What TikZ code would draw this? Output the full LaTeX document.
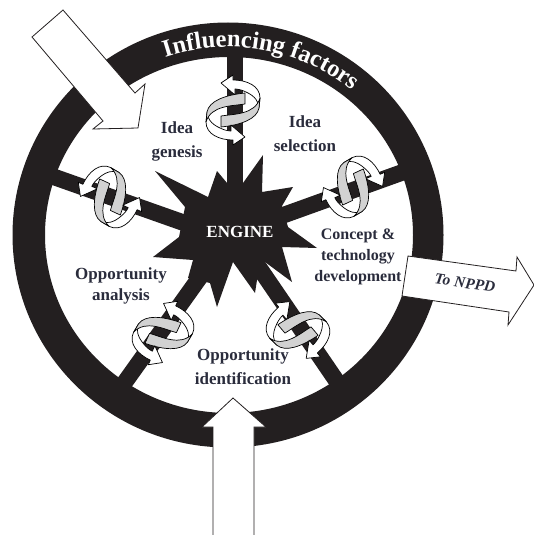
\documentclass[tikz,border=0pt]{standalone}
\usepackage{fontspec}
\setmainfont{Liberation Serif}
\usetikzlibrary{decorations.text}
\definecolor{ink}{HTML}{231F20}
\definecolor{labelink}{HTML}{2A2C3C}
\definecolor{band}{HTML}{D2D2D2}
\tikzset{
  spoke/.style={draw=ink,line width=16.5pt},
  bigarrow/.style={draw=ink,fill=white,line width=0.8pt,line join=miter},
  lab/.style={text=labelink,align=center,inner sep=0pt,font=\bfseries\fontsize{17}{24}\selectfont},
  ribbon/.style={draw=black,line width=0.7pt,line join=round},
  knot/.pic={
    \foreach \r in {0,180}{
      \begin{scope}[rotate=\r]
        \path[ribbon,fill=white] (-12,-27) -- (0,-35) -- (0,-30)
          .. controls (14,-30) and (27,-24) .. (27,-12)
          -- (26,-2) .. controls (26,-8) and (22,-14) .. (13,-18)
          .. controls (9,-20) and (5,-21) .. (2,-21)
          -- (2,-15) -- cycle;
        \path[ribbon,fill=band] (-12,6) .. controls (0,4) and (22,5) .. (27,-12)
          -- (26,-2) .. controls (24,9) and (8,15) .. (-12,17) -- cycle;
      \end{scope}
    }
  }
}
\begin{document}
\begin{tikzpicture}[x=1pt,y=-1pt]
\useasboundingbox (0,0) rectangle (534,535);
\fill[ink,even odd rule] (228,235) ellipse [x radius=215.5,y radius=212.5]
                         (229,235) ellipse [x radius=184,y radius=178];
\coordinate (rimT) at (235,40);
\coordinate (rimUR) at (420,166);
\coordinate (rimUL) at (40,172);
\coordinate (rimLL) at (115,396);
\coordinate (rimLR) at (340,386);
\draw[spoke] (235,200) -- (rimT);
\draw[spoke] (270,220) -- (rimUR);
\draw[spoke] (190,225) -- (rimUL);
\draw[spoke] (205,270) -- (rimLL);
\draw[spoke] (258,266) -- (rimLR);
\fill[ink] (155,171) -- (208,197) -- (217,171) -- (227,183) -- (243,183) -- (263,155)
  -- (262,192) -- (293,187) -- (282,206) -- (288,227) -- (317,248) -- (282,247)
  -- (292,282) -- (265,262) -- (257,280) -- (255,293) -- (233,262) -- (217,307)
  -- (210,283) -- (188,278) -- (193,260) -- (153,257) -- (179,237) -- (185,207) -- cycle;
\pic[rotate=0] at (233,110) {knot};
\pic[rotate=65] at (110,197) {knot};
\pic[rotate=-65,xscale=-1] at (353,187) {knot};
\pic[rotate=40,xscale=-1] at (298,330) {knot};
\pic[rotate=-25] at (163,333) {knot};
\draw[bigarrow] (63,10) -- (135,93) -- (145,84) -- (138,128) -- (93,129) -- (103,121) -- (32,37) -- cycle;
\fill[white] (233,398) -- (266,427) -- (254,427) -- (254,535) -- (213,535) -- (213,427) -- (202,427) -- cycle;
\draw[bigarrow,fill=none] (213,535) -- (213,427) -- (202,427) -- (233,398) -- (266,427) -- (254,427) -- (254,535);
\draw[bigarrow] (408,256) -- (516,271) -- (517,257) -- (534,285) -- (508,325) -- (509,312) -- (402,296) -- cycle;
\path[postaction={decorate},decoration={text along path,text align=center,
  text={|\color{white}\bfseries\fontsize{24.5}{24.5}\selectfont|Influencing factors}}]
  (228,235) ++(-114:194 and 188) arc[start angle=-114,end angle=-45,x radius=194,y radius=188];
\node[lab,text=white,font=\bfseries\fontsize{17}{17}\selectfont] (engine) at (240,232) {ENGINE};
\node[lab] (genesis) at (177,141) {Idea\\genesis};
\node[lab] (selection) at (305,134) {Idea\\selection};
\node[lab,font=\bfseries\fontsize{16}{21}\selectfont] (concept) at (358,257) {Concept \&\\technology\\development};
\node[lab,font=\bfseries\fontsize{17}{21}\selectfont] (analysis) at (121,286) {Opportunity\\analysis};
\node[lab] (ident) at (243,367) {Opportunity\\identification};
\node[lab,font=\bfseries\itshape\fontsize{15.5}{15.5}\selectfont,rotate=-8] (nppd) at (465,283) {To NPPD};
\end{tikzpicture}
\end{document}
